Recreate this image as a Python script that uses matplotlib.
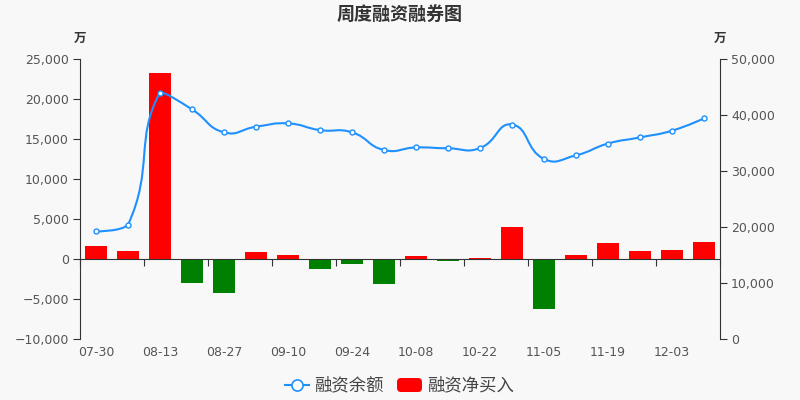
import matplotlib
matplotlib.use('Agg')
import matplotlib.pyplot as plt
from matplotlib.path import Path
from matplotlib.patches import PathPatch, FancyBboxPatch
from matplotlib.lines import Line2D
from matplotlib.transforms import blended_transform_factory, IdentityTransform
from matplotlib.ticker import FuncFormatter
import numpy as np

plt.rcParams['font.family'] = ['DejaVu Sans', 'Noto Sans CJK SC']
CJK = ['Noto Sans CJK SC', 'DejaVu Sans']

# ---------------- data ----------------
dates = ['07-30', '08-06', '08-13', '08-20', '08-27', '09-03', '09-10', '09-17',
         '09-24', '10-01', '10-08', '10-15', '10-22', '10-29', '11-05', '11-12',
         '11-19', '11-26', '12-03', '12-10']
net_buy = [1600, 1000, 23200, -3000, -4200, 900, 500, -1200, -600, -3100,
           400, -250, 150, 4000, -6200, 500, 2000, 1000, 1100, 2100]
balance = [19200, 20400, 44000, 41000, 36900, 37900, 38500, 37300, 36900, 33750,
           34200, 34050, 34100, 38300, 32150, 32800, 34900, 36000, 37200, 39400]
left_ticks = [-10000, -5000, 0, 5000, 10000, 15000, 20000, 25000]
right_ticks = [0, 10000, 20000, 30000, 40000, 50000]
title = '周度融资融券图'
legend_labels = ['融资余额', '融资净买入']

BG = '#f8f8f8'
AX = '#333333'
TXT = '#555555'
BLUE = '#1e90ff'

fig = plt.figure(figsize=(8, 4), dpi=100, facecolor=BG)
ax = fig.add_axes([0.1, 61 / 400, 0.8, 280 / 400])
ax.set_facecolor(BG)

n = len(dates)
x = np.arange(n)
colors = ['#ff0000' if v >= 0 else '#008000' for v in net_buy]
ax.bar(x, net_buy, width=0.69, color=colors, zorder=2)
ax.set_xlim(-0.5, n - 0.5)
ax.set_ylim(left_ticks[0], left_ticks[-1])
ax.set_yticks(left_ticks)

def fmt(v, pos):
    s = f"{int(abs(v)):,}"
    return ('\u2212' + s) if v < 0 else s

ax.yaxis.set_major_formatter(FuncFormatter(fmt))
for s in ['top', 'right']:
    ax.spines[s].set_visible(False)
ax.spines['left'].set_color(AX)
ax.spines['bottom'].set_color(AX)
ax.spines['bottom'].set_position(('data', 0))
ax.set_xticks(np.arange(-0.5, n, 2))
ax.tick_params(axis='x', direction='out', length=5, color=AX, labelbottom=False)
ax.tick_params(axis='y', direction='out', length=5, color=AX, labelcolor=TXT,
               labelsize=9, pad=3)

tr = blended_transform_factory(ax.transData, ax.transAxes)
for i in range(0, n, 2):
    ax.text(i, -13 / 280, dates[i], transform=tr, ha='center', va='center',
            fontsize=9, color=TXT)

ax2 = ax.twinx()
ax2.set_ylim(right_ticks[0], right_ticks[-1])
ax2.set_yticks(right_ticks)
ax2.yaxis.set_major_formatter(FuncFormatter(fmt))
for s in ['top', 'left', 'bottom']:
    ax2.spines[s].set_visible(False)
ax2.spines['right'].set_color(AX)
ax2.tick_params(axis='y', direction='out', length=5, color=AX, labelcolor=TXT,
                labelsize=9, pad=3)


def smooth_path(xs, ys, sx, sy, smooth=0.5):
    P = np.column_stack([np.asarray(xs, float) * sx, np.asarray(ys, float) * sy])
    lo = P.min(axis=0)
    hi = P.max(axis=0)
    m = len(P)
    verts = [P[0].copy()]
    codes = [Path.MOVETO]
    cp0 = P[0].copy()
    for i in range(1, m):
        p = P[i].copy()
        prev = P[i - 1]
        if i + 1 < m:
            nxt = P[i + 1]
            v = nxt - prev
            lp = np.linalg.norm(p - prev)
            ln = np.linalg.norm(nxt - p)
            r = ln / (ln + lp)
            cp1 = p - v * smooth * (1 - r)
            ncp0 = p + v * smooth * r
        else:
            cp1 = p.copy()
            ncp0 = p.copy()
        cp0 = np.clip(cp0, lo, hi)
        cp1 = np.clip(cp1, lo, hi)
        verts += [cp0, cp1, p]
        codes += [Path.CURVE4] * 3
        cp0 = ncp0
    verts = np.array(verts)
    verts[:, 0] /= sx
    verts[:, 1] /= sy
    return Path(verts, codes)

path = smooth_path(x, balance, 32.0, 280.0 / 50000)
ax2.add_patch(PathPatch(path, fill=False, edgecolor=BLUE, lw=1.5, zorder=3,
                        capstyle='round', joinstyle='round'))
ax2.plot(x, balance, 'o', ms=3.6, mfc='white', mec=BLUE, mew=1.0, zorder=4)

# title and unit labels
fig.text(0.5, 1 - 14 / 400, title, ha='center', va='center', fontsize=13,
         fontweight='bold', color='#333333', family=CJK)
fig.text(80 / 800, 1 - 38 / 400, '万', ha='center', va='center', fontsize=9,
         fontweight='bold', color='#333333', family=CJK)
fig.text(720 / 800, 1 - 38 / 400, '万', ha='center', va='center', fontsize=9,
         fontweight='bold', color='#333333', family=CJK)

# legend (manual)
ly = 1 - 385 / 400
fig.add_artist(Line2D([285 / 800, 309 / 800], [ly, ly], color=BLUE, lw=1.5,
                      transform=fig.transFigure))
fig.add_artist(Line2D([297 / 800], [ly], marker='o', ms=8, mfc='white', mec=BLUE,
                      mew=1.2, transform=fig.transFigure))
fig.text(314 / 800, ly, legend_labels[0], ha='left', va='center', fontsize=12.5,
         color='#444444', family=CJK)
rect = FancyBboxPatch((397, 400 - 392), 25, 14,
                      boxstyle='round,pad=0,rounding_size=4',
                      facecolor='#ff0000', edgecolor='none',
                      transform=IdentityTransform())
fig.add_artist(rect)
fig.text(427 / 800, ly, legend_labels[1], ha='left', va='center', fontsize=12.5,
         color='#444444', family=CJK)

fig.savefig('out.png', dpi=100, facecolor=BG)
